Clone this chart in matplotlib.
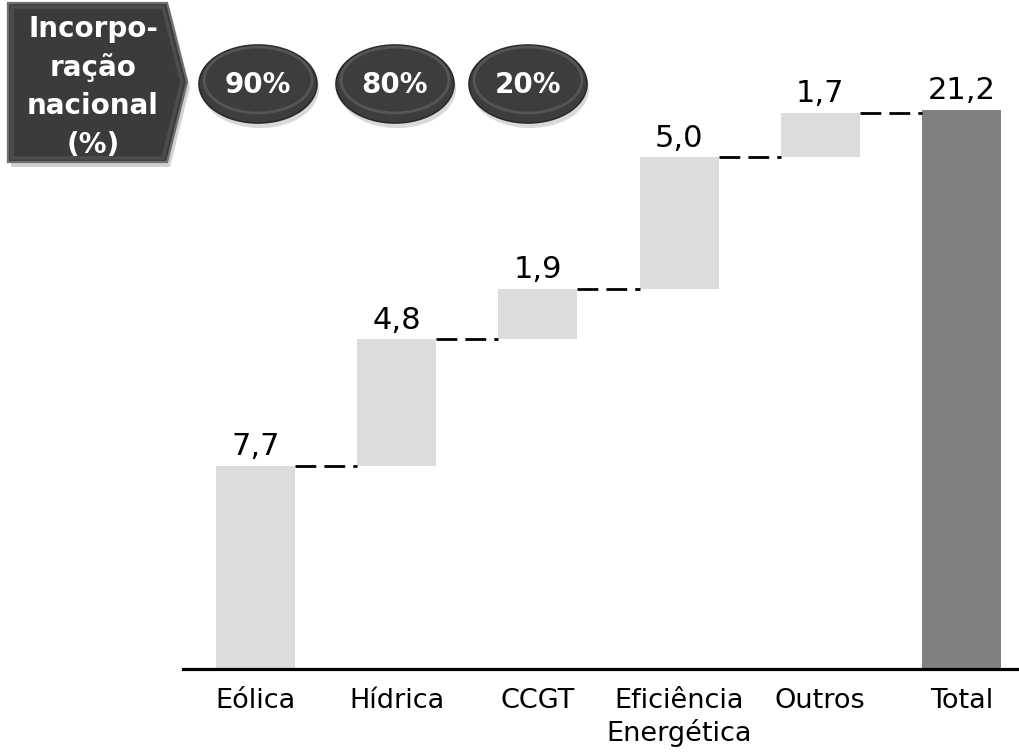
import matplotlib
matplotlib.use("Agg")
import matplotlib.pyplot as plt
from matplotlib.patches import Polygon, Ellipse
import numpy as np

# ---- data ----
categories = ["Eólica", "Hídrica", "CCGT", "Eficiência\nEnergética", "Outros", "Total"]
increments = [7.7, 4.8, 1.9, 5.0, 1.7]
total_value = 21.2
value_labels = ["7,7", "4,8", "1,9", "5,0", "1,7", "21,2"]
shape_lines = ["Incorpo-", "ração", "nacional", "(%)"]
national_pct = ["90%", "80%", "20%"]

W, H = 1019, 754
fig = plt.figure(figsize=(W / 100, H / 100), dpi=100)
plt.rcParams['font.family'] = ['DejaVu Sans']

# main axes (pixel layout)
ax_left, ax_right, ax_base, ax_top = 183, 1019, 669, 0
ax = fig.add_axes([ax_left / W, (H - ax_base) / H, (ax_right - ax_left) / W, (ax_base - ax_top) / H])
px_per_unit = (669 - 110) / total_value
ax.set_ylim(0, (ax_base - ax_top) / px_per_unit)
ax.set_xlim(-0.513, 5.407)

bar_w = 0.56
light = "#dcdcdc"
dark = "#808080"

bottoms = np.concatenate([[0], np.cumsum(increments)[:-1]])
tops = bottoms + np.array(increments)
x = np.arange(len(categories))

ax.bar(x[:-1], increments, bottom=bottoms, width=bar_w, color=light, zorder=2)
ax.bar(x[-1], total_value, width=bar_w, color=dark, zorder=2)

# connectors
levels = list(tops)
for i, lvl in enumerate(levels):
    ax.plot([x[i] + bar_w / 2, x[i + 1] - bar_w / 2], [lvl, lvl], color="black",
            lw=2.0, linestyle=(0, (7.5, 2.9)), solid_capstyle="butt",
            dash_capstyle="butt", zorder=3)

# value labels
all_tops = list(tops) + [total_value]
for i, (t, lab) in enumerate(zip(all_tops, value_labels)):
    ax.annotate(lab, (x[i], t), xytext=(0, 3.5), textcoords="offset points",
                ha="center", va="bottom", fontsize=22, color="black")

ax.set_xticks(x)
ax.set_xticklabels(categories, fontsize=19.5, color="black", linespacing=1.2)
ax.tick_params(axis="x", length=0, pad=14)
ax.set_yticks([])
for s in ["top", "right", "left"]:
    ax.spines[s].set_visible(False)
ax.spines["bottom"].set_linewidth(2.3)
ax.spines["bottom"].set_color("black")
ax.spines["bottom"].set_zorder(4)
ax.patch.set_alpha(0)

# overlay axes in pixel coords for the decorations
ov = fig.add_axes([0, 0, 1, 1])
ov.set_xlim(0, W)
ov.set_ylim(H, 0)
ov.axis("off")
ov.patch.set_alpha(0)

# pentagon arrow shape
pts = np.array([[8, 3], [167, 3], [187, 82], [167, 162], [8, 162]])
shadow = Polygon(pts + np.array([3, 5]), closed=True, facecolor="#9a9a9a", alpha=0.45,
                 edgecolor="none", zorder=1)
ov.add_patch(shadow)
ov.add_patch(Polygon(pts, closed=True, facecolor="#3b3b3b", edgecolor="#6e6e6e",
                     lw=1.6, zorder=2))
inner = np.array([[12, 7], [163, 7], [182, 82], [163, 158], [12, 158]])
ov.add_patch(Polygon(inner, closed=True, facecolor="none", edgecolor="#4d4d4d",
                     lw=2.5, zorder=2))
for i, line in enumerate(shape_lines):
    ov.text(93, 37 + 38.7 * i, line, ha="center", va="baseline", color="white",
            fontsize=20, fontweight="bold", zorder=3)

# ellipses
ell_x = [258, 395, 528]
ell_y = 84
for cx, lab in zip(ell_x, national_pct):
    ov.add_patch(Ellipse((cx + 2, ell_y + 5), 118, 78, facecolor="#a0a0a0",
                         alpha=0.4, edgecolor="none", zorder=1))
    ov.add_patch(Ellipse((cx, ell_y), 118, 78, facecolor="#3d3d3d",
                         edgecolor="#2a2a2a", lw=1.2, zorder=2))
    ov.add_patch(Ellipse((cx, ell_y - 4), 108, 66, facecolor="none",
                         edgecolor="#555555", lw=2.0, zorder=2))
    ov.text(cx, ell_y + 1, lab, ha="center", va="center", color="white",
            fontsize=20, fontweight="bold", zorder=3)

fig.savefig("out.png", dpi=100)
